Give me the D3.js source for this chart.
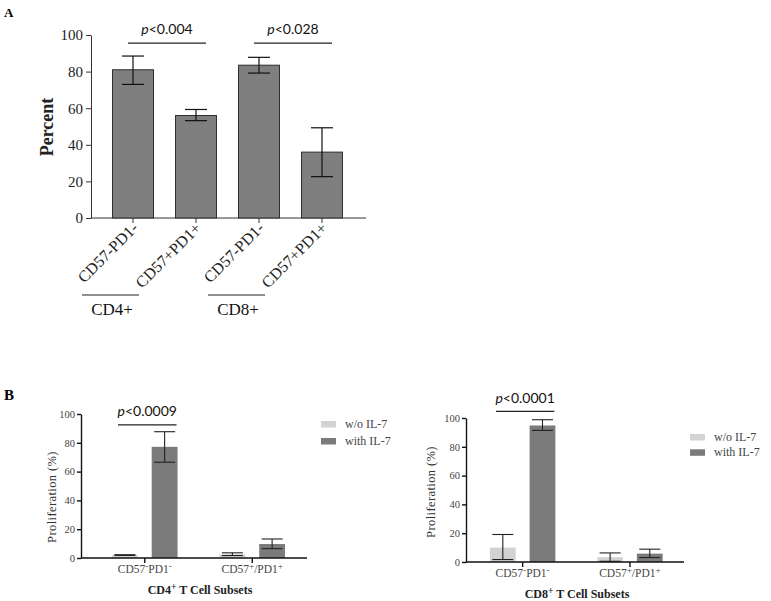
<!DOCTYPE html>
<html>
<head>
<meta charset="utf-8">
<script src="https://cdn.jsdelivr.net/npm/d3@7"></script>
<style>
  body { margin: 0; background: #fff; }
  svg { display: block; }
  .serif { font-family: "Times New Roman", "Liberation Serif", "DejaVu Serif", serif; }
  .sans { font-family: Lato, "Open Sans", sans-serif; }
</style>
</head>
<body>
<div id="chart-area"></div>
<script>
// ---- panel A data ----
const subsetLabels = ["CD57-PD1-", "CD57+PD1+", "CD57-PD1-", "CD57+PD1+"];
const percentValues = [81, 56, 83.5, 36];
const percentErrLow = [73, 53.2, 79.2, 22.6];
const percentErrHigh = [88.5, 59.3, 87.8, 49.3];
const percentTicks = [0, 20, 40, 60, 80, 100];
const cellGroups = ["CD4+", "CD8+"];
const pValuesA = ["0.004", "0.028"];

// ---- panel B data ----
const subsetsB = ["CD57-PD1-", "CD57+/PD1+"];
const treatments = ["w/o IL-7", "with IL-7"];
const prolifTicks = [0, 20, 40, 60, 80, 100];
const cd4Without = [2.0, 2.6];
const cd4WithoutLow = [1.8, 1.7];
const cd4WithoutHigh = [2.3, 3.6];
const cd4With = [77.2, 9.7];
const cd4WithLow = [66.5, 6.5];
const cd4WithHigh = [87.7, 13.2];
const cd8Without = [10.0, 3.3];
const cd8WithoutLow = [1.7, 0.5];
const cd8WithoutHigh = [19.1, 6.3];
const cd8With = [94.8, 5.8];
const cd8WithLow = [91.4, 3.1];
const cd8WithHigh = [98.8, 8.9];

const svg = d3.select("#chart-area")
  .append("svg")
  .attr("width", 771)
  .attr("height", 601);

// text with superscript + / - signs
function addSup(sel, str, shift) {
  let up = false;
  str.split(/([+-])/).filter(s => s).forEach(part => {
    const isSign = part === "+" || part === "-";
    const t = sel.append("tspan").text(part);
    if (isSign && !up) { t.attr("dy", -shift).attr("font-size", "0.8em"); up = true; }
    else if (!isSign && up) { t.attr("dy", shift); up = false; }
    else if (isSign) t.attr("font-size", "0.8em");
  });
}

// ================= Panel A =================
const xA = d3.scaleBand()
  .domain(d3.range(subsetLabels.length))
  .range([101.5, 353.5])
  .paddingInner(0.35)
  .paddingOuter(0.175);

const yA = d3.scaleLinear()
  .domain([0, 100])
  .range([218, 35]);

const gA = svg.append("g");

gA.append("text")
  .attr("class", "serif")
  .attr("x", 4).attr("y", 17)
  .attr("font-weight", "bold").attr("font-size", "13px")
  .text("A");

const yAxisA = gA.append("g")
  .attr("transform", "translate(91,0)")
  .call(d3.axisLeft(yA).tickValues(percentTicks).tickSize(5).tickSizeOuter(0).tickPadding(3));
yAxisA.attr("font-family", null);
yAxisA.selectAll("path, line").attr("stroke", "#333");
yAxisA.selectAll("text").attr("class", "serif").attr("font-size", "15px").attr("fill", "#222");

gA.append("line")
  .attr("x1", 91).attr("x2", 366).attr("y1", 218).attr("y2", 218)
  .attr("stroke", "#333");

const xAxisA = gA.append("g")
  .attr("transform", "translate(0,218)")
  .call(d3.axisBottom(xA).tickSize(5).tickSizeOuter(0).tickFormat(""));
xAxisA.select(".domain").remove();
xAxisA.selectAll("line").attr("stroke", "#333");

gA.selectAll(".labA")
  .data(subsetLabels)
  .enter().append("text")
  .attr("class", "labA serif")
  .attr("transform", (d, i) => `translate(${xA(i) + xA.bandwidth() / 2 + 6},229) rotate(-45)`)
  .attr("text-anchor", "end")
  .attr("font-size", "16px").attr("fill", "#222")
  .text(d => d);

gA.selectAll(".barA")
  .data(percentValues)
  .enter().append("rect")
  .attr("class", "barA")
  .attr("x", (d, i) => xA(i))
  .attr("y", d => yA(d))
  .attr("width", xA.bandwidth())
  .attr("height", d => yA(0) - yA(d))
  .attr("fill", "#7f7f7f")
  .attr("stroke", "#2e2e2e")
  .attr("stroke-width", 1);

const errA = gA.selectAll(".errA")
  .data(percentValues)
  .enter().append("g")
  .attr("class", "errA")
  .attr("transform", (d, i) => `translate(${xA(i) + xA.bandwidth() / 2},0)`);
errA.append("line")
  .attr("y1", (d, i) => yA(percentErrLow[i]))
  .attr("y2", (d, i) => yA(percentErrHigh[i]));
errA.append("line")
  .attr("x1", -11).attr("x2", 11)
  .attr("y1", (d, i) => yA(percentErrLow[i]))
  .attr("y2", (d, i) => yA(percentErrLow[i]));
errA.append("line")
  .attr("x1", -11).attr("x2", 11)
  .attr("y1", (d, i) => yA(percentErrHigh[i]))
  .attr("y2", (d, i) => yA(percentErrHigh[i]));
errA.selectAll("line").attr("stroke", "#111").attr("stroke-width", 1.2);

// significance brackets
pValuesA.forEach((p, k) => {
  const c1 = xA(k * 2) + xA.bandwidth() / 2;
  const c2 = xA(k * 2 + 1) + xA.bandwidth() / 2;
  const ySig = yA(95.6);
  gA.append("line")
    .attr("x1", c1 - 5).attr("x2", c2 + 10)
    .attr("y1", ySig).attr("y2", ySig)
    .attr("stroke", "#222").attr("stroke-width", 1.2);
  const t = gA.append("text")
    .attr("class", "sans")
    .attr("x", (c1 + c2) / 2 + 2.5).attr("y", ySig - 9.5)
    .attr("text-anchor", "middle")
    .attr("font-size", "14px").attr("fill", "#111");
  t.append("tspan").attr("font-style", "italic").text("p");
  t.append("tspan").text("<" + p);
});

// group underlines
cellGroups.forEach((grp, k) => {
  const c = xA(k * 2) + xA.bandwidth() / 2;
  gA.append("line")
    .attr("x1", c - 51).attr("x2", c + 6)
    .attr("y1", 295).attr("y2", 295)
    .attr("stroke", "#222").attr("stroke-width", 1.2);
  gA.append("text")
    .attr("class", "serif")
    .attr("x", c - 21).attr("y", 315)
    .attr("text-anchor", "middle")
    .attr("font-size", "17px").attr("fill", "#111")
    .text(grp);
});

gA.append("text")
  .attr("class", "serif")
  .attr("transform", "translate(53,127) rotate(-90)")
  .attr("text-anchor", "middle")
  .attr("font-weight", "bold").attr("font-size", "18px")
  .attr("fill", "#222")
  .text("Percent");

// ================= Panel B =================
svg.append("text")
  .attr("class", "serif")
  .attr("x", 4).attr("y", 400)
  .attr("font-weight", "bold").attr("font-size", "15px")
  .text("B");

function drawPanelB(cfg) {
  const y = d3.scaleLinear().domain([0, 100]).range([cfg.bottom, cfg.top]);
  const x0 = d3.scaleBand().domain(subsetsB).range([cfg.bandStart, cfg.bandEnd]);
  const x1 = d3.scaleBand()
    .domain(treatments)
    .range([x0.bandwidth() * 0.195, x0.bandwidth() * 0.805])
    .paddingInner(0.35);
  const color = d3.scaleOrdinal().domain(treatments).range(["#d3d3d3", "#7b7b7b"]);

  const g = svg.append("g");

  const rows = [];
  subsetsB.forEach((s, i) => {
    treatments.forEach((t, k) => {
      rows.push({ s, t, v: cfg.values[k][i], lo: cfg.low[k][i], hi: cfg.high[k][i] });
    });
  });

  g.selectAll("rect.bar")
    .data(rows)
    .enter().append("rect")
    .attr("class", "bar")
    .attr("x", d => x0(d.s) + x1(d.t))
    .attr("y", d => y(d.v))
    .attr("width", x1.bandwidth())
    .attr("height", d => y(0) - y(d.v))
    .attr("fill", d => color(d.t));

  const err = g.selectAll("g.err")
    .data(rows)
    .enter().append("g")
    .attr("class", "err")
    .attr("transform", d => `translate(${x0(d.s) + x1(d.t) + x1.bandwidth() / 2},0)`);
  err.append("line").attr("y1", d => y(d.lo)).attr("y2", d => y(d.hi));
  err.append("line").attr("x1", -10.5).attr("x2", 10.5).attr("y1", d => y(d.lo)).attr("y2", d => y(d.lo));
  err.append("line").attr("x1", -10.5).attr("x2", 10.5).attr("y1", d => y(d.hi)).attr("y2", d => y(d.hi));
  err.selectAll("line").attr("stroke", "#222").attr("stroke-width", 1.1);

  // axes
  const yAxis = g.append("g")
    .attr("transform", `translate(${cfg.axisLeft},0)`)
    .call(d3.axisLeft(y).tickValues(prolifTicks).tickSize(4).tickSizeOuter(0).tickPadding(2));
  yAxis.attr("font-family", null);
  yAxis.selectAll("path, line").attr("stroke", "#111").attr("stroke-width", 1.4);
  yAxis.selectAll("text").attr("class", "serif").attr("font-size", "10.5px").attr("fill", "#444");

  g.append("line")
    .attr("x1", cfg.axisLeft).attr("x2", cfg.axisRight)
    .attr("y1", cfg.bottom).attr("y2", cfg.bottom)
    .attr("stroke", "#111").attr("stroke-width", 1.6);

  const xAxis = g.append("g")
    .attr("transform", `translate(0,${cfg.bottom})`)
    .call(d3.axisBottom(x0).tickSize(5).tickSizeOuter(0).tickFormat(""));
  xAxis.select(".domain").remove();
  xAxis.selectAll("line").attr("stroke", "#111").attr("stroke-width", 1.4);

  subsetsB.forEach(s => {
    const t = g.append("text")
      .attr("class", "serif")
      .attr("x", x0(s) + x0.bandwidth() / 2).attr("y", cfg.bottom + 15)
      .attr("text-anchor", "middle")
      .attr("font-size", "11.5px").attr("fill", "#444");
    addSup(t, s, 4);
  });

  const title = g.append("text")
    .attr("class", "serif")
    .attr("x", cfg.titleX).attr("y", cfg.bottom + 36)
    .attr("text-anchor", "middle")
    .attr("font-weight", "bold").attr("font-size", "12px")
    .attr("fill", "#222");
  addSup(title, cfg.title, 4);

  g.append("text")
    .attr("class", "serif")
    .attr("transform", `translate(${cfg.yLabelX},${cfg.yLabelY}) rotate(-90)`)
    .attr("text-anchor", "middle")
    .attr("font-size", "12.5px").attr("fill", "#333")
    .attr("letter-spacing", "0.4px")
    .text("Proliferation (%)");

  // significance
  const s0 = subsetsB[0];
  const xs = x0(s0) + x1(treatments[0]) + 6;
  const xe = x0(s0) + x1(treatments[1]) + x1.bandwidth() - 1;
  const ySig = y(cfg.sigLevel);
  g.append("line")
    .attr("x1", xs).attr("x2", xe).attr("y1", ySig).attr("y2", ySig)
    .attr("stroke", "#222").attr("stroke-width", 1.2);
  const pt = g.append("text")
    .attr("class", "sans")
    .attr("x", (xs + xe) / 2).attr("y", ySig - 8.5)
    .attr("text-anchor", "middle")
    .attr("font-size", "14px").attr("fill", "#111");
  pt.append("tspan").attr("font-style", "italic").text("p");
  pt.append("tspan").text("<" + cfg.pValue);

  // legend
  const leg = g.selectAll("g.leg")
    .data(treatments)
    .enter().append("g")
    .attr("class", "leg")
    .attr("transform", (d, i) => `translate(${cfg.legendX},${cfg.legendY + i * cfg.legendStep})`);
  leg.append("rect")
    .attr("width", 15).attr("height", 6.5)
    .attr("fill", d => color(d));
  leg.append("text")
    .attr("class", "serif")
    .attr("x", 24).attr("y", 7)
    .attr("font-size", "12px").attr("fill", "#444")
    .text(d => d);
}

drawPanelB({
  top: 414, bottom: 558, axisLeft: 81, axisRight: 307, bandStart: 91, bandEnd: 306,
  values: [cd4Without, cd4With], low: [cd4WithoutLow, cd4WithLow], high: [cd4WithoutHigh, cd4WithHigh],
  title: "CD4+ T Cell Subsets", titleX: 200, yLabelX: 56, yLabelY: 497,
  pValue: "0.0009", sigLevel: 92.5,
  legendX: 321, legendY: 421, legendStep: 17
});

drawPanelB({
  top: 418, bottom: 562, axisLeft: 466, axisRight: 684, bandStart: 469, bandEnd: 683.6,
  values: [cd8Without, cd8With], low: [cd8WithoutLow, cd8WithLow], high: [cd8WithoutHigh, cd8WithHigh],
  title: "CD8+ T Cell Subsets", titleX: 577, yLabelX: 435, yLabelY: 492,
  pValue: "0.0001", sigLevel: 104.6,
  legendX: 690, legendY: 434, legendStep: 15.3
});
</script>
</body>
</html>
